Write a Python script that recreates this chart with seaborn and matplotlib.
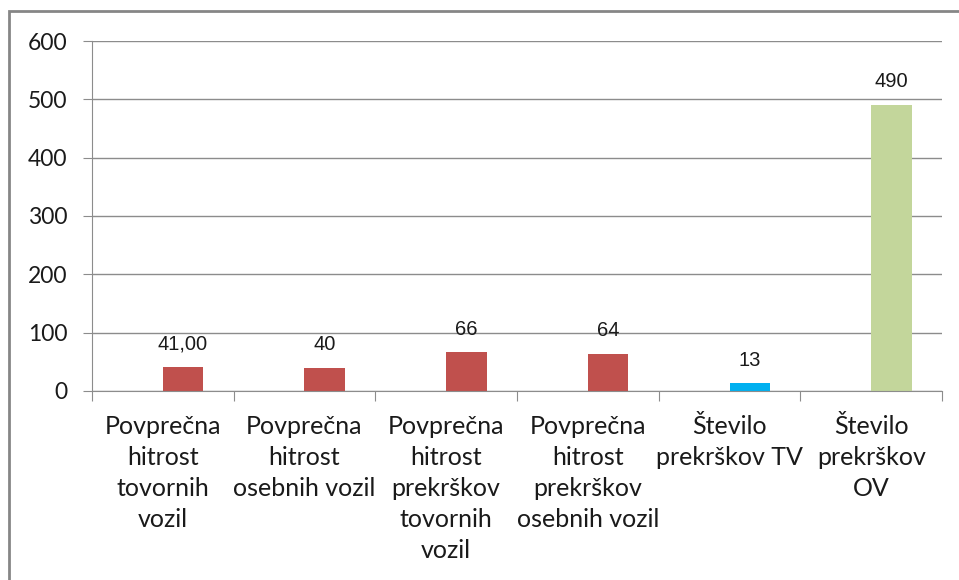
import matplotlib.pyplot as plt
from matplotlib.patches import Rectangle
import seaborn as sns
import pandas as pd

categories = [
    "Povprečna\nhitrost\ntovornih\nvozil",
    "Povprečna\nhitrost\nosebnih vozil",
    "Povprečna\nhitrost\nprekrškov\ntovornih\nvozil",
    "Povprečna\nhitrost\nprekrškov\nosebnih vozil",
    "Število\nprekrškov TV",
    "Število\nprekrškov\nOV",
]
values = [41, 40, 66, 64, 13, 490]
value_labels = ["41,00", "40", "66", "64", "13", "490"]
bar_colors = ["#C0504D", "#C0504D", "#C0504D", "#C0504D", "#00B0F0", "#C3D69B"]

sns.set_style("white")
plt.rcParams['font.family'] = ['Lato', 'DejaVu Sans']

# Excel-style offset: an empty series sits left of the real bars
df = pd.DataFrame({
    'cat': categories * 2,
    'value': [0] * len(values) + values,
    'series': ['pad'] * len(values) + ['data'] * len(values),
})

fig = plt.figure(figsize=(9.59, 5.80), dpi=100)
ax = fig.add_axes([0.0959, 0.3259, 0.8864, 0.6034])

sns.barplot(data=df, x='cat', y='value', hue='series', order=categories,
            hue_order=['pad', 'data'], width=0.57, dodge=True,
            palette=['white', 'white'], legend=False, ax=ax)

for patch, c in zip(ax.containers[1], bar_colors):
    patch.set_facecolor(c)
    patch.set_edgecolor('none')
for patch in ax.containers[0]:
    patch.set_edgecolor('none')

ax.bar_label(ax.containers[1], labels=value_labels, padding=10,
             fontsize=14.5, family='Liberation Sans', color='#1a1a1a')

grid = '#8c8c8c'
ax.set_ylim(0, 600)
ax.set_yticks(range(0, 601, 100))
ax.set_xlim(-0.5, len(categories) - 0.5)
ax.yaxis.grid(True, color=grid, lw=1)
ax.set_axisbelow(True)
for s in ['top', 'right']:
    ax.spines[s].set_visible(False)
for s in ['left', 'bottom']:
    ax.spines[s].set_color(grid)
ax.tick_params(axis='y', length=6.5, color=grid, labelsize=16.5, labelcolor='#1a1a1a', pad=11, left=True)
ax.set_xticks([i - 0.5 for i in range(len(categories) + 1)], minor=False)
ax.set_xticklabels([])
ax.set_xticks(range(len(categories)), minor=True)
ax.set_xticklabels(categories, minor=True, fontsize=18, color='#1a1a1a', linespacing=1.42, va='top')
ax.tick_params(axis='x', which='major', length=7, color=grid, bottom=True)
ax.tick_params(axis='x', which='minor', length=0, pad=17)
ax.set_xlabel('')
ax.set_ylabel('')

fig.patches.append(Rectangle((9 / 959, -0.1), 1.2, 1.1 - 11 / 580, transform=fig.transFigure,
                             fill=False, edgecolor='#868686', lw=2))

plt.savefig('out.png', dpi=100)
